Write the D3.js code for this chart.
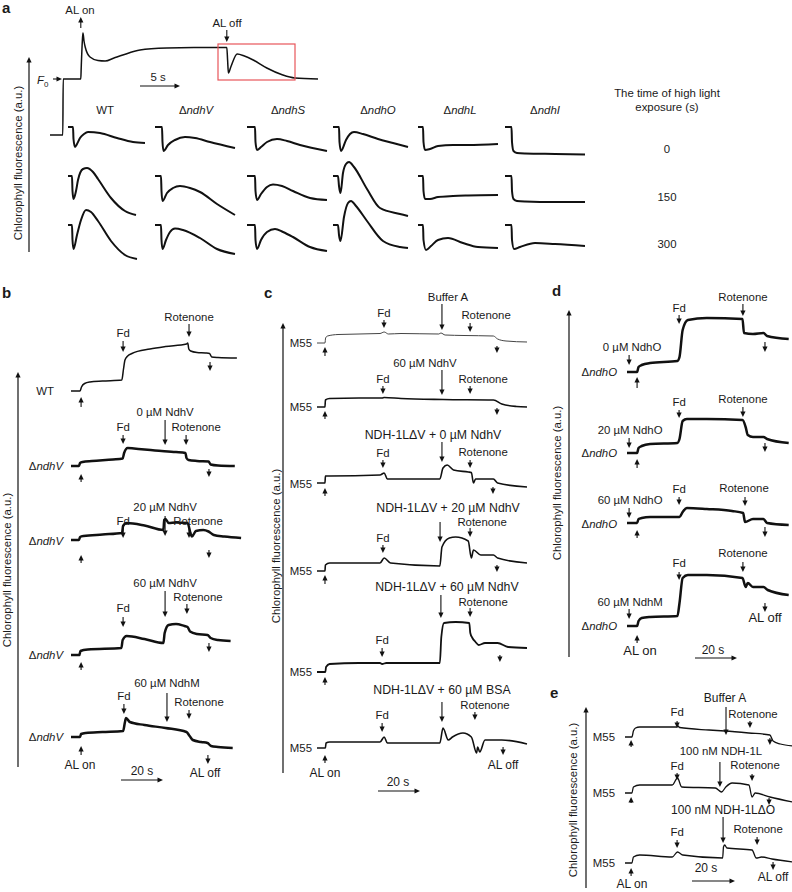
<!DOCTYPE html>
<html><head><meta charset="utf-8">
<script src="https://cdn.jsdelivr.net/npm/d3@7"></script>
<style>
body{margin:0;background:#fff}
svg{display:block}
text{font-family:"Liberation Sans",Arial,Helvetica,sans-serif;fill:#1a1a1a}
</style></head><body>
<svg id="fig" width="792" height="892"></svg>
<script>
// ===================== DATA (time s, fluorescence a.u.) =====================
// Panel a: full induction trace (WT)
const aMain = [[0,0],[1.6,0],[1.65,5.6],[3.85,5.6],[3.9,6.7],[4.05,9.5],[4.12,10.2],[4.25,9.4],[4.4,8.8],[5.0,7.8],[6.0,7.45],[6.9,7.4],[8.0,7.7],[9.1,8.0],[11.25,8.5],[14.6,8.7],[18,8.75],[22.1,8.75],[22.2,7.5],[22.3,6.2],[22.6,6.8],[23.4,8.1],[24.3,7.9],[25.4,7.5],[27.1,6.7],[29.1,6.0],[30.6,5.7],[33.5,5.6]];
// Panel a: post-illumination transients, rows = high light exposure 0 / 150 / 300 s
const aStrains = ["WT","ndhV","ndhS","ndhO","ndhL","ndhI"];
const aExposure = ["0","150","300"];
const aWT = [
  [[0,0],[0.5,0],[0.55,-1.2],[0.7,-2.0],[0.9,-1.7],[1.2,-1.1],[1.6,-0.7],[2.0,-0.5],[3.2,-0.6],[4.9,-1.1],[6.5,-1.5],[7.7,-1.6]],
  [[0,0],[0.4,0],[0.45,-1.5],[0.55,-2.3],[0.8,-1.5],[1.0,-0.4],[1.5,0.7],[1.9,0.8],[2.5,0.4],[3.0,-0.3],[4.3,-2.2],[5.7,-3.5],[6.8,-3.9]],
  [[0,0],[0.4,0],[0.45,-1.5],[0.55,-2.4],[0.9,-1.0],[1.3,0.5],[1.8,1.5],[2.3,1.3],[3.0,0.4],[4.3,-1.6],[5.7,-3.0],[6.9,-3.4]]];
const aNdhV = [
  [[0,0],[0.7,0],[0.75,-1.5],[0.85,-2.4],[1.3,-1.8],[2.0,-1.3],[3.0,-1.0],[4.0,-1.1],[5.5,-1.5],[8.0,-2.1]],
  [[0,0],[0.6,0],[0.65,-1.5],[0.75,-2.5],[1.2,-1.7],[1.8,-1.2],[2.5,-1.0],[3.5,-1.2],[4.5,-1.6],[6.2,-2.8],[8.0,-3.9]],
  [[0,0],[0.6,0],[0.65,-1.5],[0.75,-2.4],[1.1,-1.5],[1.5,-0.7],[2.0,-0.35],[2.8,-0.5],[4.5,-1.3],[6.2,-2.4],[8.0,-2.9]]];
const aNdhS = [
  [[0,0],[0.8,0],[0.85,-1.5],[1.0,-2.3],[1.4,-2.0],[2.0,-1.5],[3.0,-1.2],[4.0,-1.4],[5.3,-1.8],[8.0,-2.4]],
  [[0,0],[0.8,0],[0.85,-1.5],[1.0,-2.4],[1.4,-1.8],[2.0,-1.1],[2.6,-0.85],[3.5,-1.0],[4.6,-1.5],[6.3,-2.2],[8.0,-2.4]],
  [[0,0],[0.8,0],[0.85,-1.5],[1.0,-2.4],[1.4,-1.5],[2.0,-0.7],[2.8,-0.4],[3.6,-0.7],[4.6,-1.2],[6.3,-2.2],[8.0,-2.6]]];
const aNdhO = [
  [[0,0],[0.6,0],[0.65,-1.5],[0.8,-2.4],[1.3,-1.3],[1.7,-0.7],[2.1,-0.5],[3.0,-0.7],[4.5,-1.2],[6.0,-1.6],[7.5,-2.0]],
  [[0,0],[0.5,0],[0.6,-1.0],[0.75,-1.7],[1.0,0.3],[1.3,1.2],[1.6,1.4],[2.1,0.9],[3.4,-1.3],[4.7,-3.2],[6.7,-3.8],[7.5,-4.0]],
  [[0,0],[0.5,0],[0.6,-1.0],[0.75,-1.6],[1.1,0.8],[1.5,2.2],[1.8,2.4],[2.3,1.9],[3.4,0.4],[5.0,-1.6],[6.7,-2.2],[7.5,-2.3]]];
const aNdhL = [
  [[0,0],[0.5,0],[0.55,-1.5],[0.7,-2.3],[1.2,-2.2],[2.0,-1.9],[3.5,-1.8],[5.0,-1.8],[8.0,-1.7]],
  [[0,0],[0.5,0],[0.55,-1.5],[0.7,-2.3],[1.2,-2.3],[2.0,-2.1],[3.5,-2.0],[5.0,-1.95],[8.0,-1.9]],
  [[0,0],[0.5,0],[0.55,-1.5],[0.8,-2.5],[1.3,-2.1],[2.0,-1.5],[3.0,-1.3],[4.5,-1.8],[6.0,-2.2],[8.0,-2.3]]];
const aNdhI = [
  [[0,0],[0.65,0],[0.7,-1.5],[0.85,-2.4],[1.2,-2.6],[2.0,-2.65],[5,-2.7],[8,-2.75]],
  [[0,0],[0.65,0],[0.7,-1.5],[0.85,-2.3],[1.2,-2.5],[2,-2.55],[5,-2.6],[8,-2.6]],
  [[0,0],[0.65,0],[0.7,-1.5],[0.9,-2.4],[1.5,-2.2],[3.0,-1.8],[5.0,-1.9],[8.0,-2.1]]];

// Panel b
const bWT  = [[0,0],[4.3,0],[5.0,0.4],[6.5,0.75],[9,0.9],[15,1.0],[24.2,1.1],[25.0,2.2],[25.7,3.1],[27,3.5],[29,3.75],[37.6,4.2],[45,4.45],[55,4.7],[55.6,4.8],[56.1,4.2],[57,4.0],[60,3.85],[64,3.8],[66,3.75],[67,3.4],[70,3.35],[79,3.3]];
const bV0  = [[0,0],[3.8,0],[4.3,0.3],[5.5,0.4],[10,0.5],[20,0.65],[24.6,0.75],[25.3,1.3],[27,1.8],[30,1.75],[40,1.55],[50,1.4],[54.5,1.3],[55,0.8],[56,0.6],[60,0.5],[65.5,0.45],[66.5,0.15],[70,0.05],[78,0.0]];
const bV20 = [[0,0],[3.8,0],[4.3,0.3],[6,0.4],[15,0.55],[24.3,0.7],[24.8,1.4],[26.5,1.7],[35,1.45],[44,1.0],[44.4,2.0],[45,2.1],[46.5,1.7],[50,1.75],[55.5,1.7],[57,0.6],[57.6,0.35],[59.5,0.9],[63,1.0],[65.5,0.85],[68,0.5],[73,0.35],[81,0.2]];
const bV60 = [[0,0],[4,0],[4.5,0.4],[8,0.55],[24,0.7],[24.6,1.5],[26.5,1.9],[35,1.6],[44,1.2],[44.6,2.2],[46.5,3.0],[50,3.1],[54,2.9],[55.5,2.8],[56.7,2.35],[60,2.1],[65,2.0],[66.5,1.7],[70,1.5],[76,1.4]];
const bM60 = [[0,0],[4.3,0],[4.8,0.3],[7,0.4],[15,0.5],[24.8,0.6],[25.7,1.5],[26.2,1.9],[28,1.5],[35,1.2],[45,0.9],[55,0.5],[56.5,0.1],[58,-0.3],[62,-0.5],[65,-0.6],[66.7,-0.9],[70,-1.0],[77,-1.1]];

// Panel c
const cBuf  = [[0,0],[3.8,0],[4.1,0.5],[5,0.7],[10,0.85],[30,0.95],[32,1.1],[34,0.9],[40,0.95],[58,0.9],[59,1.0],[61,0.8],[70,0.75],[84,0.7],[86,0.4],[90,0.2],[100,0.1]];
const cNdhV = [[0,0],[3.8,0],[4,0.7],[6,0.85],[20,0.9],[31,0.9],[32,0.95],[40,0.85],[60,0.75],[84,0.7],[88,0.3],[95,0.05],[100,0.0]];
const cL0   = [[0,0],[3.8,0],[4.0,0.7],[6,0.7],[30,0.8],[32,1.0],[33.5,0.4],[40,0.4],[58.5,0.4],[60,1.5],[62,1.8],[65,1.3],[72,1.1],[73.5,1.05],[74.5,0.0],[75.5,0.4],[84,0.4],[86,0.0],[100,-0.4]];
const cL20  = [[0,0],[3.8,0],[4,0.6],[6,0.8],[30,0.8],[32,1.3],[35,0.8],[58.5,0.5],[59.5,2.4],[63,3.3],[66,3.4],[72,3.0],[73.5,1.3],[74.5,2.1],[78,1.6],[84,1.6],[86,1.3],[100,0.8]];
const cL60  = [[0,0],[4,0],[4.3,0.5],[6,0.8],[20,0.9],[30,0.9],[31,0.8],[33,0.9],[58.5,0.9],[59.2,3.5],[60.5,4.9],[66,5.0],[72.5,4.9],[73,3.9],[74,3.4],[75.5,3.0],[77,2.7],[80,2.9],[86,2.9],[91,2.5],[100,2.4]];
const cBSA  = [[0,0],[4,0],[4.3,0.5],[6,0.6],[30,0.6],[32,1.1],[33.5,0.5],[58.5,0.5],[60,2.0],[62.5,0.8],[64.5,1.1],[69.5,1.5],[73.5,1.1],[76,-0.5],[76.5,0.1],[77.5,-0.4],[80,0.8],[88,0.8],[100,0.4]];

// Panel d
const dO0  = [[0,0],[4.8,0],[5.5,0.5],[7,0.7],[11,0.9],[24,1.1],[25,1.5],[26.5,4.2],[29,5.2],[38,5.4],[55,5.3],[55.7,3.9],[60,3.8],[65,3.9],[66.7,3.6],[77,3.3]];
const dO20 = [[0,0],[4.8,0],[5.5,0.5],[7,0.7],[11,0.9],[24,1.0],[25,1.4],[26.5,3.2],[28.5,3.4],[38,3.4],[55,3.3],[56.5,2.6],[57.5,1.8],[60,1.6],[65,1.6],[66.7,1.4],[77,1.0]];
const dO60 = [[0,0],[4.8,0],[5.5,0.4],[7,0.5],[11,0.6],[25,0.6],[26.5,1.1],[28.5,1.5],[38,1.4],[50,1.2],[55.3,1.0],[56.2,0.1],[60,0.4],[65,0.4],[66.7,0.0],[77,-0.2]];
const dM60 = [[0,0],[4.8,0],[5.5,0.5],[7,0.8],[11,0.9],[24,1.0],[25,2.3],[26.5,4.8],[29,5.1],[38,5.1],[55,4.8],[56.5,3.9],[57.5,4.3],[60,3.9],[65,3.9],[67,3.6],[77,3.1]];

// Panel e
const eBuf = [[0,0],[3.3,0],[4,0.6],[5,0.9],[7,1.0],[20,1.0],[24.8,1.0],[25.2,1.1],[26,0.95],[40,0.7],[47.6,0.6],[59,0.4],[69,0.2],[70.5,-0.4],[74,-0.7],[80,-0.9]];
const eL   = [[0,0],[3.3,0],[4,0.6],[7,0.8],[22.5,0.8],[25,1.5],[27,0.6],[43,0.5],[46,0.1],[48,0.6],[51,1.0],[59,0.8],[60.5,-0.4],[62,0.0],[69,-0.4],[80,-0.9]];
const eLO  = [[0,0],[3.3,0],[4,0.6],[7,0.8],[22.5,0.6],[25,1.1],[27.5,0.8],[46.5,0.5],[46.9,1.6],[47.5,1.8],[48.5,1.5],[60.5,1.3],[62.5,0.5],[65,0.6],[70,0.4],[80,0.1]];

// ===================== DRAWING =====================
const svg = d3.select("#fig");
const INK = "#111";
const UNIT = 10; // px per a.u.
const FS = 11.4;

function yAt(y0){ return d3.scaleLinear().domain([0,1]).range([y0, y0-UNIT]); }
function trace(data, xs, y0, sw, col){
  const ys = yAt(y0);
  svg.append("path").datum(data)
    .attr("fill","none").attr("stroke",col||INK).attr("stroke-width",sw)
    .attr("stroke-linejoin","round").attr("stroke-linecap","butt")
    .attr("d", d3.line().x(d=>xs(d[0])).y(d=>ys(d[1])).curve(d3.curveMonotoneX));
}
function head(x,y,dir,s){
  s = s||1; const L=5.5*s, W=2.6*s; let p;
  if(dir==="down") p=[[x-W,y-L],[x,y],[x+W,y-L]];
  else if(dir==="up") p=[[x-W,y+L],[x,y],[x+W,y+L]];
  else p=[[x-L,y-W],[x,y],[x-L,y+W]];
  svg.append("path").attr("d", d3.line()(p)+"Z").attr("fill",INK);
}
function vArrow(x,y1,y2,w){
  const dn = y2>y1;
  svg.append("line").attr("x1",x).attr("x2",x).attr("y1",y1).attr("y2",dn?y2-4:y2+4)
    .attr("stroke",INK).attr("stroke-width",w||1.1);
  head(x,y2,dn?"down":"up");
}
function hArrow(x1,x2,y){
  svg.append("line").attr("x1",x1).attr("x2",x2-4).attr("y1",y).attr("y2",y).attr("stroke",INK).attr("stroke-width",1.1);
  head(x2,y,"right");
}
function T(x,y,s,anchor,size,weight){
  return svg.append("text").attr("x",x).attr("y",y).attr("text-anchor",anchor||"middle")
    .attr("font-size",size||FS).attr("font-weight",weight||"normal").text(s);
}
function G(x,y,gene,anchor){
  const t = svg.append("text").attr("x",x).attr("y",y).attr("text-anchor",anchor||"middle").attr("font-size",FS);
  t.append("tspan").text("\u0394");
  t.append("tspan").attr("font-style","italic").text(gene);
}
function ylab(x,y){
  svg.append("text").attr("transform",`translate(${x},${y}) rotate(-90)`).attr("text-anchor","middle")
    .attr("font-size",FS).text("Chlorophyll fluorescence (a.u.)");
}
function ev(xs,t,y1,y2,label,ly,dx,size){
  const x = xs(t); vArrow(x,y1,y2);
  if(label) T(x+(dx||0), ly, label, "middle", size);
}

// ---------- panel letters ----------
T(2,13,"a","start",15,"bold");
T(2,298,"b","start",15,"bold");
T(264,298,"c","start",15,"bold");
T(552,296,"d","start",15,"bold");
T(550,698,"e","start",15,"bold");

// ---------- panel a ----------
svg.append("line").attr("x1",29).attr("x2",29).attr("y1",252).attr("y2",62).attr("stroke",INK).attr("stroke-width",1.2);
head(29,57,"up");
ylab(22,163);
const xaMain = d3.scaleLinear().domain([0,33.5]).range([50,318]);
trace(aMain, xaMain, 135, 1.5);
svg.append("rect").attr("x",218).attr("y",44).attr("width",77).attr("height",36)
  .attr("fill","none").attr("stroke","#e8555a").attr("stroke-width",1.2);
T(80,14,"AL on"); vArrow(xaMain(3.85),28,17);
T(227,27,"AL off"); vArrow(xaMain(22.1),30,42);
const f0 = svg.append("text").attr("x",37).attr("y",84).attr("font-size",FS);
f0.append("tspan").attr("font-style","italic").text("F");
f0.append("tspan").attr("font-size",8).attr("dy",3).text("0");
svg.append("line").attr("x1",53).attr("x2",58).attr("y1",79).attr("y2",79).attr("stroke",INK).attr("stroke-width",1.1);
head(62,79,"right");
T(158,81,"5 s"); hArrow(140,180,86);

const aCols = [68,155,247,333,418,505];
const aRows = [127,176,225];
const aGrid = [aWT,aNdhV,aNdhS,aNdhO,aNdhL,aNdhI];
const aHead = [105,196,288,378,460,545];
aStrains.forEach((s,i)=>{
  if(s==="WT") T(aHead[i],114,s); else G(aHead[i],114,s);
  const xs = d3.scaleLinear().domain([0,8]).range([aCols[i],aCols[i]+80]);
  aGrid[i].forEach((tr,r)=> trace(tr, xs, aRows[r], 2.0));
});
T(667,97,"The time of high light");
T(667,111,"exposure (s)");
aExposure.forEach((e,r)=> T(667,[153,201,248][r],e));

// ---------- panel b ----------
svg.append("line").attr("x1",18).attr("x2",18).attr("y1",767).attr("y2",377).attr("stroke",INK).attr("stroke-width",1.2);
head(18,372,"up");
ylab(11,570);
const xb = d3.scaleLinear().domain([0,80]).range([71,239]);
trace(bWT, xb, 391, 1.5);
trace(bV0, xb, 466, 2.5);
trace(bV20, xb, 540, 2.5);
trace(bV60, xb, 655, 2.5);
trace(bM60, xb, 737, 2.5);
T(54,395,"WT","end");
[470,545,659,741].forEach(y=>G(63,y,"ndhV","end"));
// WT
ev(xb,56.2,324,337,"Rotenone",321,0); ev(xb,24.8,341,352,"Fd",337); ev(xb,66.2,362,371); ev(xb,4.8,407,397);
// 0 uM
ev(xb,44.8,420,445,"0 \u00b5M NdhV",416); ev(xb,24.8,435,444,"Fd",431); ev(xb,54.8,435,445,"Rotenone",431,10); ev(xb,65.7,469,477); ev(xb,4.8,482,474);
// 20 uM
ev(xb,44.8,516,536,"20 \u00b5M NdhV",511); ev(xb,24.8,528,538,"Fd",525); ev(xb,56.2,528,538,"Rotenone",525,9); ev(xb,65.7,550,558); ev(xb,4.8,563,555);
// 60 uM
ev(xb,44.8,591,617,"60 \u00b5M NdhV",587); ev(xb,24.8,617,627,"Fd",612); ev(xb,55.2,604,614,"Rotenone",601,11); ev(xb,65.7,643,652); ev(xb,4.8,670,662);
// NdhM
ev(xb,45.7,693,722,"60 \u00b5M NdhM",687); ev(xb,25.2,704,714,"Fd",700); ev(xb,56.2,710,719,"Rotenone",706,10);
ev(xb,65.2,755,764); T(205,777,"AL off",null,12);
ev(xb,4.8,755,746); T(80,769,"AL on",null,12);
T(142,775,"20 s",null,12); hArrow(121,163,780);

// ---------- panel c ----------
svg.append("line").attr("x1",283).attr("x2",283).attr("y1",773).attr("y2",328).attr("stroke",INK).attr("stroke-width",1.2);
head(283,323,"up");
ylab(280,546);
const xc = d3.scaleLinear().domain([0,100]).range([317,527]);
trace(cBuf, xc, 343, 1.0, "#444");
trace(cNdhV, xc, 407, 1.6);
trace(cL0, xc, 483, 1.6);
trace(cL20, xc, 571, 1.6);
trace(cL60, xc, 672, 1.8);
trace(cBSA, xc, 748, 1.6);
[347,411,488,575,676,752].forEach(y=>T(312,y,"M55","end"));
ev(xc,59.5,304,330,"Buffer A",301,6); ev(xc,31.9,320,328,"Fd",317); ev(xc,72.9,323,332,"Rotenone",319,16); ev(xc,85.7,346,353); ev(xc,3.8,356,347);
ev(xc,59.5,370,395,"60 \u00b5M NdhV",367,-17); ev(xc,31.4,386,394,"Fd",383); ev(xc,72.9,386,394,"Rotenone",383,13); ev(xc,85.7,408,415); ev(xc,3.8,419,411);
ev(xc,59.5,442,462,"NDH-1L\u0394V + 0 \u00b5M NdhV",439,-9,12.3); ev(xc,31.4,460,468,"Fd",457); ev(xc,72.9,460,468,"Rotenone",456,13); ev(xc,83.8,487,494); ev(xc,3.8,496,488);
ev(xc,58.6,522,542,"NDH-1L\u0394V + 20 \u00b5M NdhV",512,8,12.3); ev(xc,31.4,545,553,"Fd",542); ev(xc,72.9,528,537,"Rotenone",526,12); ev(xc,85.7,565,572); ev(xc,3.8,584,575);
ev(xc,59,595,618,"NDH-1L\u0394V + 60 \u00b5M NdhV",591,6,12.3); ev(xc,31,648,657,"Fd",644); ev(xc,72.9,608,617,"Rotenone",606,13); ev(xc,87.1,655,662); ev(xc,3.8,685,677);
ev(xc,59.5,702,722,"NDH-1L\u0394V + 60 \u00b5M BSA",694,0,12.3); ev(xc,31,723,732,"Fd",719); ev(xc,75.2,712,720,"Rotenone",709,10);
ev(xc,88.6,747,755); T(503,769,"AL off",null,12);
ev(xc,3.8,763,755); T(325,777,"AL on",null,12);
T(398,786,"20 s",null,12); hArrow(378,420,791);

// ---------- panel d ----------
svg.append("line").attr("x1",569).attr("x2",569).attr("y1",657).attr("y2",315).attr("stroke",INK).attr("stroke-width",1.2);
head(569,310,"up");
ylab(561,483);
const xd = d3.scaleLinear().domain([0,77]).range([627,788.7]);
trace(dO0, xd, 372, 2.5);
trace(dO20, xd, 453, 2.5);
trace(dO60, xd, 523, 2.5);
trace(dM60, xd, 626, 2.5);
[376,457,528,630].forEach(y=>G(617,y,"ndhO","end"));
ev(xd,1,355,365,"0 \u00b5M NdhO",351,3); ev(xd,24.8,315,324,"Fd",312); ev(xd,55.2,304,316,"Rotenone",301); ev(xd,65.7,342,352); ev(xd,4.8,388,377);
ev(xd,1,438,448,"20 \u00b5M NdhO",434,1); ev(xd,24.8,410,418,"Fd",406); ev(xd,55.2,407,417,"Rotenone",403); ev(xd,65.7,443,452); ev(xd,4.8,468,459);
ev(xd,1,508,518,"60 \u00b5M NdhO",504,1); ev(xd,24.8,497,505,"Fd",493); ev(xd,56.2,497,506,"Rotenone",492,-1); ev(xd,65.7,527,537); ev(xd,4.8,538,530);
ev(xd,1,609,619,"60 \u00b5M NdhM",606,1); ev(xd,24.8,572,580,"Fd",567); ev(xd,55.2,562,572,"Rotenone",557);
ev(xd,65.7,603,612); T(765,622,"AL off",null,13);
ev(xd,4.8,643,635); T(640,655,"AL on",null,13);
T(713,654,"20 s",null,12); hArrow(695,737,658);

// ---------- panel e ----------
svg.append("line").attr("x1",586).attr("x2",586).attr("y1",888).attr("y2",712).attr("stroke",INK).attr("stroke-width",1.2);
head(586,707,"up");
ylab(577,800);
const xe = d3.scaleLinear().domain([0,80]).range([625,793]);
trace(eBuf, xe, 737, 1.3);
trace(eL, xe, 793, 1.3);
trace(eLO, xe, 863, 1.3);
[741,797,867].forEach(y=>T(615,y,"M55","end"));
ev(xe,48.1,707,735,"Buffer A",702,-1,12); ev(xe,24.8,721,728,"Fd",716); ev(xe,59.5,721,728,"Rotenone",718,3); ev(xe,69,738,745); ev(xe,2.9,747,740);
ev(xe,45.2,762,787,"100 nM NDH-1L",755,1,11.4); ev(xe,24.8,773,780,"Fd",769.5); ev(xe,60.5,774,781,"Rotenone",769,3); ev(xe,68.6,798,805); ev(xe,2.9,803,797);
ev(xe,46.7,817,843,"100 nM NDH-1L\u0394O",814,0,12); ev(xe,24.8,840,848,"Fd",836); ev(xe,62.9,837,845,"Rotenone",833,1);
ev(xe,70.5,862,870); T(773,881,"AL off",null,12);
ev(xe,2.9,876,868); T(632,888,"AL on",null,12);
T(706,872,"20 s",null,12); hArrow(692,735,881);
</script>
</body></html>
